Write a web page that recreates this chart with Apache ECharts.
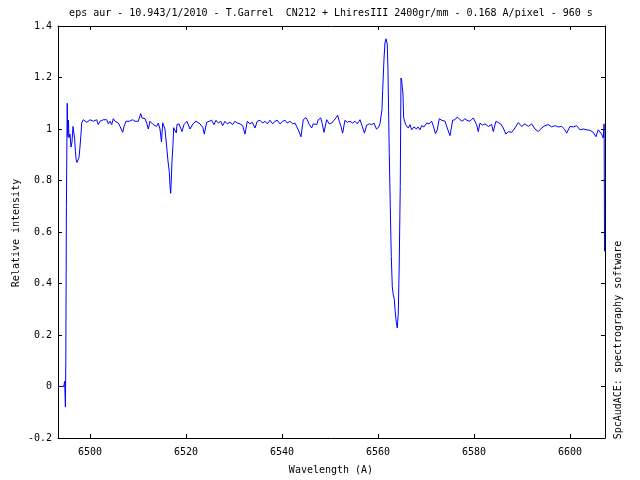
<!DOCTYPE html>
<html>
<head>
<meta charset="utf-8">
<script src="https://cdn.jsdelivr.net/npm/echarts@6/dist/echarts.min.js"></script>
<style>html,body{margin:0;padding:0;background:#fff;}#c{width:640px;height:480px;}</style>
</head>
<body>
<div id="c"></div>
<script>
const titleText = 'eps aur - 10.943/1/2010 - T.Garrel  CN212 + LhiresIII 2400gr/mm - 0.168 A/pixel - 960 s';
const xName = 'Wavelength (A)';
const yName = 'Relative intensity';
const creditText = 'SpcAudACE: spectrography software';
const xTicks = [6500, 6520, 6540, 6560, 6580, 6600];
const yTicks = [-0.2, 0, 0.2, 0.4, 0.6, 0.8, 1, 1.2, 1.4];
const xMin = 6493.33, xMax = 6607.3, yMin = -0.2, yMax = 1.4;

const wavelength = [
6493.33,6493.64,6493.96,6494.27,6494.52,6494.71,6494.79,6494.87,6494.96,6495.08,
6495.25,6495.37,6495.50,6495.62,6495.83,6496.04,6496.25,6496.46,6496.66,6496.81,
6496.96,6497.12,6497.29,6497.50,6497.71,6497.91,6498.12,6498.27,6498.60,6498.96,
6499.31,6499.64,6500.00,6500.35,6500.68,6501.04,6501.39,6501.73,6502.08,6502.77,
6503.12,6503.48,6503.81,6504.16,6504.52,6504.85,6505.20,6505.56,6505.89,6506.25,
6506.60,6506.81,6507.08,6507.50,6507.77,6508.18,6508.48,6508.89,6509.37,6509.73,
6510.06,6510.56,6510.83,6511.10,6511.46,6511.81,6512.14,6512.50,6512.85,6513.18,
6513.54,6513.89,6514.23,6514.58,6514.89,6515.14,6515.62,6515.98,6516.25,6516.52,
6516.66,6516.81,6516.93,6517.08,6517.29,6517.43,6517.70,6517.98,6518.12,6518.54,
6519.16,6519.58,6520.20,6520.83,6521.45,6522.08,6522.91,6523.54,6523.81,6524.31,
6524.85,6525.35,6525.83,6526.25,6526.73,6527.23,6527.64,6528.12,6528.60,6529.16,
6529.73,6530.20,6530.68,6531.25,6531.81,6532.29,6532.77,6533.33,6533.81,6534.37,
6534.85,6535.41,6535.98,6536.46,6536.93,6537.50,6538.06,6538.54,6539.02,6539.58,
6540.14,6540.62,6541.10,6541.66,6542.23,6542.71,6543.06,6543.39,6543.96,6544.43,
6545.00,6545.27,6545.68,6546.18,6546.52,6546.87,6547.23,6547.56,6548.06,6548.39,
6548.75,6549.31,6549.85,6550.35,6550.83,6551.25,6551.60,6551.93,6552.29,6552.64,
6553.12,6553.60,6554.16,6554.73,6555.20,6555.68,6556.25,6556.73,6557.18,6557.64,
6558.18,6558.68,6559.16,6559.68,6560.10,6560.41,6560.62,6560.83,6560.98,6561.25,
6561.45,6561.66,6561.81,6561.93,6562.08,6562.23,6562.35,6562.56,6562.77,6562.98,
6563.18,6563.39,6563.60,6563.81,6564.02,6564.23,6564.43,6564.64,6564.79,6564.93,
6565.06,6565.20,6565.35,6565.56,6565.77,6566.04,6566.31,6566.66,6567.02,6567.50,
6568.02,6568.33,6568.75,6569.10,6569.58,6570.14,6570.62,6571.18,6571.56,6571.98,
6572.35,6572.77,6573.27,6573.96,6574.43,6575.00,6575.56,6576.04,6576.52,6577.08,
6577.60,6578.06,6578.54,6579.16,6579.85,6580.56,6580.89,6581.25,6581.77,6582.29,
6582.98,6583.68,6584.02,6584.58,6585.06,6585.56,6586.10,6586.66,6587.14,6587.85,
6588.54,6589.23,6589.93,6590.62,6591.31,6592.02,6592.71,6593.39,6594.10,6594.79,
6595.48,6596.18,6596.87,6597.56,6598.27,6598.85,6599.31,6600.00,6600.68,6601.39,
6602.08,6602.77,6603.48,6604.16,6604.85,6605.41,6605.89,6606.25,6606.60,6606.93,
6607.12,6607.20
];

const intensity = [
0.000,0.005,0.000,0.005,0.000,0.020,-0.025,-0.080,0.100,0.700,
1.100,0.970,1.035,0.966,0.980,0.930,0.950,1.010,1.010,0.960,
0.913,0.880,0.870,0.870,0.890,0.930,0.980,1.023,1.036,1.030,
1.026,1.030,1.036,1.036,1.030,1.023,1.036,1.017,1.030,1.036,
1.030,1.036,1.020,1.030,1.017,1.040,1.030,1.036,1.023,1.010,
1.004,0.987,1.010,1.030,1.036,1.030,1.026,1.036,1.030,1.036,
1.030,1.060,1.043,1.036,1.040,1.023,1.000,1.030,1.030,1.017,
1.023,1.010,1.023,1.000,0.950,1.024,1.000,0.930,0.875,0.835,
0.780,0.750,0.800,0.875,0.940,1.005,1.000,0.985,1.017,1.020,
0.990,1.017,1.030,1.000,1.020,1.030,1.020,1.005,0.980,1.026,
1.030,1.034,1.017,1.034,1.023,1.030,1.013,1.030,1.020,1.026,
1.017,1.030,1.023,1.020,1.013,0.980,1.030,1.020,1.026,1.004,
1.030,1.034,1.023,1.030,1.020,1.034,1.020,1.030,1.034,1.020,
1.030,1.034,1.023,1.030,1.020,1.023,1.017,0.997,0.970,1.036,
1.044,1.036,1.017,1.004,1.020,1.023,1.017,1.036,1.043,1.020,
0.987,1.036,1.020,1.023,1.034,1.043,1.054,1.030,1.010,0.984,
1.034,1.026,1.030,1.023,1.030,1.020,1.036,1.010,0.984,1.015,
1.020,1.017,1.023,1.000,1.006,1.020,1.025,1.075,1.150,1.270,
1.334,1.350,1.347,1.330,1.230,1.050,0.908,0.700,0.505,0.389,
0.356,0.340,0.290,0.249,0.227,0.285,0.480,0.777,1.198,1.190,
1.160,1.140,1.043,1.036,1.017,1.023,1.004,1.017,0.997,1.008,
1.000,1.008,0.997,1.013,1.008,1.023,1.020,1.030,1.010,0.982,
0.997,1.040,1.034,1.030,1.004,0.974,1.034,1.036,1.047,1.036,
1.030,1.040,1.034,1.030,1.043,1.017,0.990,1.023,1.015,1.020,
1.010,1.017,0.990,1.030,1.025,1.020,1.004,0.980,0.990,0.987,
1.004,1.025,1.010,1.020,1.010,1.020,1.000,0.990,1.004,1.013,
1.017,1.008,1.013,1.008,1.010,1.000,0.984,1.010,1.008,1.013,
0.997,1.000,0.997,0.995,0.987,0.970,0.997,0.990,0.980,0.965,
1.020,0.525
];

const font = 'DejaVu Sans Mono';
const chart = echarts.init(document.getElementById('c'), null, {renderer: 'canvas'});

function xAxisDef(pos, showLabel) {
  return {
    type: 'value', position: pos, min: xMin, max: xMax,
    axisLine: {show: true, onZero: false, lineStyle: {color: '#000', width: 1}},
    axisTick: {show: true, inside: true, length: 4, customValues: xTicks, lineStyle: {color: '#000', width: 1}},
    axisLabel: {show: showLabel, customValues: xTicks, margin: 9, color: '#000', fontFamily: font, fontSize: 10,
      formatter: function (v) { return String(v); }},
    splitLine: {show: false}
  };
}
function yAxisDef(pos, showLabel) {
  return {
    type: 'value', position: pos, min: yMin, max: yMax, interval: 0.2,
    axisLine: {show: true, onZero: false, lineStyle: {color: '#000', width: 1}},
    axisTick: {show: true, inside: true, length: 4, customValues: yTicks, lineStyle: {color: '#000', width: 1}},
    axisLabel: {show: showLabel, customValues: yTicks, margin: 6, color: '#000', fontFamily: font, fontSize: 10,
      formatter: function (v) { return String(Math.round(v * 10) / 10); }},
    splitLine: {show: false}
  };
}

const option = {
  animation: false,
  backgroundColor: '#fff',
  grid: {left: 58, right: 35, top: 26, bottom: 42, containLabel: false},
  xAxis: [xAxisDef('bottom', true), xAxisDef('top', false)],
  yAxis: [yAxisDef('left', true), yAxisDef('right', false)],
  series: [{
    type: 'line',
    xAxisIndex: 0, yAxisIndex: 0,
    data: wavelength.map((w, i) => [w, intensity[i]]),
    showSymbol: false,
    symbol: 'none',
    smooth: false,
    lineStyle: {color: '#0000ff', width: 1},
    itemStyle: {color: '#0000ff'},
    clip: true
  }],
  graphic: [
    {type: 'text', x: 331, y: 13, style: {text: titleText, font: '10px "DejaVu Sans Mono"', fill: '#000', align: 'center', verticalAlign: 'middle', textAlign: 'center', textVerticalAlign: 'middle'}},
    {type: 'text', x: 331, y: 470, style: {text: xName, font: '10px "DejaVu Sans Mono"', fill: '#000', align: 'center', verticalAlign: 'middle', textAlign: 'center', textVerticalAlign: 'middle'}},
    {type: 'text', x: 16, y: 233, rotation: Math.PI / 2, style: {text: yName, font: '10px "DejaVu Sans Mono"', fill: '#000', align: 'center', verticalAlign: 'middle', textAlign: 'center', textVerticalAlign: 'middle'}},
    {type: 'text', x: 618, y: 340, rotation: Math.PI / 2, style: {text: creditText, font: '10px "DejaVu Sans Mono"', fill: '#000', align: 'center', verticalAlign: 'middle', textAlign: 'center', textVerticalAlign: 'middle'}}
  ]
};
chart.setOption(option);
</script>
</body>
</html>
